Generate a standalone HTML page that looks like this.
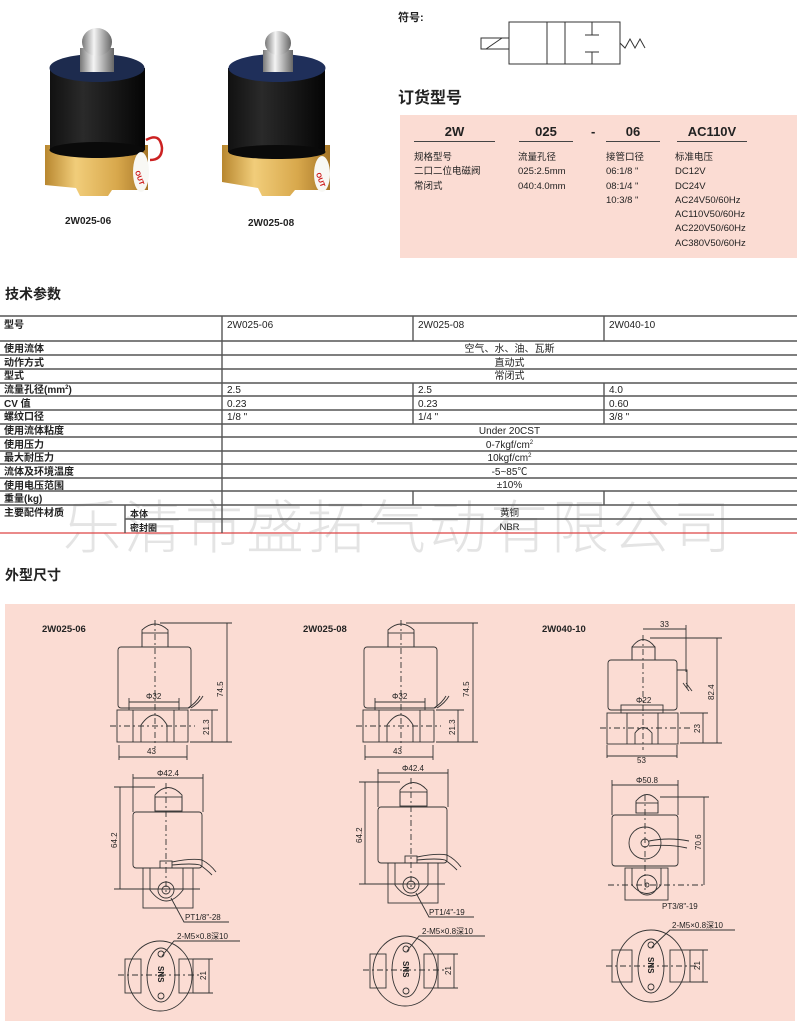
<!DOCTYPE html>
<html><head><meta charset="utf-8"><style>
body{margin:0;width:797px;height:1024px;background:#fff;position:relative;overflow:hidden;font-family:"Liberation Sans","Noto Sans CJK SC",sans-serif;color:#222}
.a{position:absolute;white-space:nowrap}
.h{font-weight:bold;font-size:15px;color:#222}
.b{font-weight:bold}
.s{font-size:6px;position:relative;top:-4px;line-height:0}
</style></head><body>

<svg class="a" style="left:0;top:0" width="390" height="240">
 <defs>
  <linearGradient id="br" x1="0" x2="1"><stop offset="0" stop-color="#b8872f"/><stop offset=".3" stop-color="#f1cd7a"/><stop offset=".7" stop-color="#d8a84c"/><stop offset="1" stop-color="#a67628"/></linearGradient>
  <linearGradient id="bk" x1="0" x2="1"><stop offset="0" stop-color="#111"/><stop offset=".35" stop-color="#2a2a2a"/><stop offset="1" stop-color="#050505"/></linearGradient>
  <linearGradient id="sv" x1="0" x2="1"><stop offset="0" stop-color="#777"/><stop offset=".4" stop-color="#f4f4f4"/><stop offset="1" stop-color="#666"/></linearGradient>
 </defs>
 <path d="M45 145 L148 145 L148 190 L112 190 L108 196 L80 196 L76 188 L45 185Z" fill="url(#br)"/>
 <rect x="50" y="68" width="95" height="82" fill="url(#bk)"/>
 <ellipse cx="97" cy="150" rx="47.5" ry="8" fill="#0a0a0a"/>
 <ellipse cx="97" cy="68" rx="47.5" ry="14" fill="#1d2b4e"/>
 <rect x="80" y="48" width="34" height="24" fill="url(#sv)"/>
 <ellipse cx="97" cy="42" rx="15" ry="14" fill="url(#sv)"/>
 <path d="M146 140 q14 -8 16 8 q0 12 -12 12" stroke="#c22" stroke-width="2.5" fill="none"/>
 <ellipse cx="141" cy="172" rx="8" ry="20" fill="#f8f8f4"/>
 <text x="136" y="178" font-size="7" fill="#c11" font-weight="bold" transform="rotate(70 140 174)">OUT</text>
 <path d="M222 145 L330 145 L330 190 L295 190 L290 196 L262 196 L258 188 L222 182Z" fill="url(#br)"/>
 <rect x="228" y="68" width="97" height="84" fill="url(#bk)"/>
 <ellipse cx="277" cy="152" rx="48.5" ry="7" fill="#0a0a0a"/>
 <ellipse cx="277" cy="68" rx="48.5" ry="14" fill="#1f2f5a"/>
 <rect x="263" y="50" width="30" height="22" fill="url(#sv)"/>
 <ellipse cx="278" cy="43" rx="13" ry="12" fill="url(#sv)"/>
 <ellipse cx="322" cy="174" rx="8" ry="18" fill="#f8f8f4"/>
 <text x="317" y="180" font-size="7" fill="#c11" font-weight="bold" transform="rotate(70 321 176)">OUT</text>
</svg>
<div class="a b" style="left:65px;top:216px;font-size:10px">2W025-06</div>
<div class="a b" style="left:248px;top:218px;font-size:10px">2W025-08</div>

<div class="a b" style="left:398px;top:9px;font-size:11px">符号:</div>
<svg class="a" style="left:470px;top:15px" width="190" height="60" fill="none" stroke="#333" stroke-width="1">
 <rect x="39" y="7" width="111" height="42"/>
 <line x1="77" y1="7" x2="77" y2="49"/><line x1="95" y1="7" x2="95" y2="49"/>
 <line x1="122" y1="7" x2="122" y2="20"/><line x1="115" y1="20" x2="129" y2="20"/>
 <line x1="122" y1="49" x2="122" y2="37"/><line x1="115" y1="37" x2="129" y2="37"/>
 <rect x="11" y="23" width="28" height="11"/><line x1="16" y1="34" x2="32" y2="23"/>
 <polyline points="150,28 155,33 160,24 165,33 170,24 175,33"/>
</svg>
<div class="a h" style="left:398px;top:84px;font-size:16px">订货型号</div>

<div class="a" style="left:400px;top:115px;width:397px;height:143px;background:#fbdcd3"></div>
<div class="a b" style="left:414px;top:124px;width:81px;text-align:center;font-size:13px;border-bottom:1.5px solid #444;padding-bottom:2px">2W</div>
<div class="a b" style="left:519px;top:124px;width:54px;text-align:center;font-size:13px;border-bottom:1.5px solid #444;padding-bottom:2px">025</div>
<div class="a b" style="left:591px;top:124px;font-size:13px">-</div>
<div class="a b" style="left:606px;top:124px;width:54px;text-align:center;font-size:13px;border-bottom:1.5px solid #444;padding-bottom:2px">06</div>
<div class="a b" style="left:677px;top:124px;width:70px;text-align:center;font-size:13px;border-bottom:1.5px solid #444;padding-bottom:2px">AC110V</div>
<div class="a" style="left:414px;top:151px;font-size:9.5px;line-height:14.3px">规格型号<br>二口二位电磁阀<br>常闭式</div>
<div class="a" style="left:518px;top:151px;font-size:9.5px;line-height:14.3px">流量孔径<br>025:2.5mm<br>040:4.0mm</div>
<div class="a" style="left:606px;top:151px;font-size:9.5px;line-height:14.3px">接管口径<br>06:1/8 "<br>08:1/4 "<br>10:3/8 "</div>
<div class="a" style="left:675px;top:151px;font-size:9.5px;line-height:14.3px">标准电压<br>DC12V<br>DC24V<br>AC24V50/60Hz<br>AC110V50/60Hz<br>AC220V50/60Hz<br>AC380V50/60Hz</div>

<div class="a h" style="left:5px;top:284px;font-size:14px">技术参数</div>
<div class="a" style="left:0;top:493px;width:797px;text-align:center;font-size:58px;color:#e4e4e4;letter-spacing:3px;line-height:60px;font-family:'Noto Sans CJK SC',sans-serif;font-weight:300">乐清市盛拓气动有限公司</div>
<svg class="a" style="left:0;top:0" width="797" height="560" stroke="#555" stroke-width="1.4">
 <line x1="0" y1="316" x2="797" y2="316"/>
 <line x1="0" y1="341" x2="797" y2="341"/>
 <line x1="0" y1="355" x2="797" y2="355"/>
 <line x1="0" y1="369" x2="797" y2="369"/>
 <line x1="0" y1="383" x2="797" y2="383"/>
 <line x1="0" y1="396" x2="797" y2="396"/>
 <line x1="0" y1="410" x2="797" y2="410"/>
 <line x1="0" y1="424" x2="797" y2="424"/>
 <line x1="0" y1="437" x2="797" y2="437"/>
 <line x1="0" y1="451" x2="797" y2="451"/>
 <line x1="0" y1="464" x2="797" y2="464"/>
 <line x1="0" y1="478" x2="797" y2="478"/>
 <line x1="0" y1="491" x2="797" y2="491"/>
 <line x1="0" y1="505" x2="797" y2="505"/>
 <line x1="125" y1="519" x2="797" y2="519"/>
 <line x1="0" y1="533" x2="797" y2="533" stroke="#d44" stroke-width="1.2"/>
 <line x1="222" y1="316" x2="222" y2="533"/>
 <line x1="125" y1="505" x2="125" y2="533"/>
 <line x1="413" y1="316" x2="413" y2="341"/><line x1="604" y1="316" x2="604" y2="341"/>
 <line x1="413" y1="383" x2="413" y2="424"/><line x1="604" y1="383" x2="604" y2="424"/>
 <line x1="413" y1="491" x2="413" y2="505"/><line x1="604" y1="491" x2="604" y2="505"/>
</svg>
<div class="a b" style="left:4px;top:319px;font-size:10px;line-height:13.6px">型号</div>
<div class="a b" style="left:4px;top:343px;font-size:10px;line-height:13.65px">使用流体<br>动作方式<br>型式<br>流量孔径(mm<span class="s">2</span>)<br>CV 值<br>螺纹口径<br>使用流体粘度<br>使用压力<br>最大耐压力<br>流体及环境温度<br>使用电压范围<br>重量(kg)<br>主要配件材质</div>
<div class="a b" style="left:130px;top:507px;font-size:9px;line-height:14px">本体<br>密封圈</div>
<div class="a" style="left:227px;top:320px;font-size:10px">2W025-06</div>
<div class="a" style="left:418px;top:320px;font-size:10px">2W025-08</div>
<div class="a" style="left:609px;top:320px;font-size:10px">2W040-10</div>
<div class="a" style="left:222px;top:343px;width:575px;text-align:center;font-size:10px;line-height:13.65px">空气、水、油、瓦斯<br>直动式<br>常闭式</div>
<div class="a" style="left:227px;top:384px;font-size:10px;line-height:13.7px">2.5<br>0.23<br>1/8 "</div>
<div class="a" style="left:418px;top:384px;font-size:10px;line-height:13.7px">2.5<br>0.23<br>1/4 "</div>
<div class="a" style="left:609px;top:384px;font-size:10px;line-height:13.7px">4.0<br>0.60<br>3/8 "</div>
<div class="a" style="left:222px;top:425px;width:575px;text-align:center;font-size:10px;line-height:13.6px">Under 20CST<br>0-7kgf/cm<span class="s">2</span><br>10kgf/cm<span class="s">2</span><br>-5~85℃<br>±10%</div>
<div class="a" style="left:222px;top:507px;width:575px;text-align:center;font-size:9.5px;line-height:14px">黄铜<br>NBR</div>

<div class="a h" style="left:5px;top:565px;font-size:14px">外型尺寸</div>

<div class="a" style="left:5px;top:604px;width:790px;height:417px;background:#fbdcd3"></div>
<svg class="a" style="left:0;top:0" width="797" height="1024" fill="none" stroke="#333" stroke-width="0.9" font-family="Liberation Sans, sans-serif">
 <defs>
  <g id="top1">
   <path d="M142 647 L142 630 Q155 618 168 630 L168 647"/>
   <rect x="142" y="633" width="26" height="14"/>
   <rect x="118" y="647" width="73" height="61" rx="3"/>
   <rect x="117" y="710" width="71" height="32"/>
   <line x1="133" y1="710" x2="133" y2="742"/><line x1="174" y1="710" x2="174" y2="742"/>
   <path d="M141 742 L141 725 Q155 705 167 725 L167 742"/>
   <line x1="155" y1="620" x2="155" y2="748" stroke-dasharray="6 3 2 3"/>
   <line x1="110" y1="726" x2="195" y2="726" stroke-dasharray="6 3 2 3"/>
   <line x1="160" y1="623" x2="232" y2="623"/><line x1="190" y1="742" x2="232" y2="742"/>
   <line x1="227" y1="623" x2="227" y2="742"/>
   <line x1="190" y1="710" x2="218" y2="710"/><line x1="212" y1="710" x2="212" y2="742"/>
   <line x1="119" y1="757" x2="187" y2="757"/><line x1="119" y1="745" x2="119" y2="760"/><line x1="187" y1="745" x2="187" y2="760"/>
   <line x1="129" y1="702" x2="179" y2="702"/><line x1="129" y1="698" x2="129" y2="710"/><line x1="179" y1="698" x2="179" y2="710"/>
   <path d="M188 708 q8 -5 12 -12 M191 708 q8 -5 12 -12"/>
  </g>
  <g id="low1">
   <line x1="133" y1="774" x2="133" y2="812"/><line x1="203" y1="774" x2="203" y2="812"/>
   <line x1="133" y1="778" x2="203" y2="778"/>
   <path d="M155 811 L155 795 Q168 780 182 795 L182 811"/>
   <rect x="155" y="797" width="27" height="14"/>
   <rect x="133" y="812" width="69" height="56" rx="3"/>
   <rect x="143" y="868" width="50" height="40"/>
   <path d="M150 868 L150 890 Q166 912 183 890 L183 868"/>
   <circle cx="166" cy="890" r="8"/><circle cx="166" cy="890" r="4"/>
   <rect x="160" y="861" width="12" height="7"/>
   <path d="M172 862 q20 -4 30 -2 q8 4 14 12 M172 865 q20 -2 28 0 q6 4 12 10"/>
   <line x1="166" y1="783" x2="166" y2="895" stroke-dasharray="6 3 2 3"/>
   <line x1="114" y1="787" x2="155" y2="787"/><line x1="114" y1="889" x2="200" y2="889"/>
   <line x1="120" y1="787" x2="120" y2="889"/>
   <polyline points="171,898 184,922 229,922"/>
   <ellipse cx="160" cy="976" rx="32" ry="35"/>
   <rect x="125" y="959" width="16" height="34"/><rect x="179" y="959" width="14" height="34"/>
   <ellipse cx="161" cy="975" rx="14" ry="27"/>
   <circle cx="161" cy="954" r="3"/><circle cx="161" cy="996" r="3"/>
   <line x1="118" y1="975" x2="200" y2="975" stroke-dasharray="6 3 2 3"/>
   <line x1="193" y1="959" x2="213" y2="959"/><line x1="193" y1="993" x2="213" y2="993"/>
   <line x1="209" y1="959" x2="209" y2="993"/>
   <polyline points="162,956 174,941 240,941"/>
  </g>
 </defs>
 <use href="#top1"/>
 <use href="#low1"/>
 <use href="#top1" transform="translate(246,0)"/>
 <use href="#low1" transform="translate(245,-5)"/>

 <path d="M632 660 L632 647 Q643 632 655 647 L655 660"/>
 <rect x="632" y="647" width="23" height="13"/>
 <rect x="608" y="660" width="69" height="50" rx="3"/>
 <rect x="621" y="705" width="42" height="8"/>
 <rect x="607" y="713" width="71" height="31"/>
 <line x1="627" y1="713" x2="627" y2="744"/><line x1="658" y1="713" x2="658" y2="744"/>
 <path d="M635 744 L635 733 Q643 722 652 733 L652 744"/>
 <path d="M677 670 h10 v18 M683 683 l6 8 M686 683 l6 8"/>
 <line x1="643" y1="635" x2="643" y2="750" stroke-dasharray="6 3 2 3"/>
 <line x1="600" y1="728" x2="690" y2="728" stroke-dasharray="6 3 2 3"/>
 <line x1="643" y1="629" x2="686" y2="629"/><line x1="686" y1="625" x2="686" y2="672"/>
 <line x1="650" y1="638" x2="722" y2="638"/><line x1="680" y1="743" x2="722" y2="743"/><line x1="717" y1="638" x2="717" y2="743"/>
 <line x1="680" y1="713" x2="708" y2="713"/><line x1="703" y1="713" x2="703" y2="743"/>
 <line x1="607" y1="756" x2="677" y2="756"/><line x1="607" y1="745" x2="607" y2="758"/><line x1="677" y1="745" x2="677" y2="758"/>
 <line x1="612" y1="780" x2="612" y2="815"/><line x1="678" y1="780" x2="678" y2="815"/><line x1="612" y1="785" x2="678" y2="785"/>
 <path d="M636 813 L636 801 Q647 788 658 801 L658 813"/>
 <rect x="636" y="803" width="22" height="10"/>
 <rect x="612" y="815" width="66" height="51" rx="3"/>
 <circle cx="645" cy="843" r="16"/><circle cx="645" cy="843" r="4"/>
 <path d="M649 841 q20 -4 40 0 M649 846 q20 -2 38 2"/>
 <rect x="625" y="868" width="43" height="32"/>
 <path d="M632 868 L632 885 Q647 902 661 885 L661 868"/>
 <circle cx="647" cy="885" r="10"/><circle cx="647" cy="885" r="2"/>
 <line x1="645" y1="795" x2="645" y2="890" stroke-dasharray="6 3 2 3"/>
 <line x1="608" y1="885" x2="706" y2="885" stroke-dasharray="6 3 2 3"/>
 <line x1="660" y1="797" x2="709" y2="797"/><line x1="704" y1="797" x2="704" y2="885"/>
 <ellipse cx="651" cy="966" rx="34" ry="36"/>
 <rect x="612" y="950" width="20" height="32"/><rect x="670" y="950" width="20" height="32"/>
 <ellipse cx="651" cy="966" rx="13" ry="27"/>
 <circle cx="651" cy="945" r="3"/><circle cx="651" cy="987" r="3"/>
 <line x1="606" y1="966" x2="696" y2="966" stroke-dasharray="6 3 2 3"/>
 <line x1="690" y1="950" x2="708" y2="950"/><line x1="690" y1="982" x2="708" y2="982"/><line x1="703" y1="950" x2="703" y2="982"/>
 <polyline points="652,947 670,930 735,930"/>

 <g fill="#222" stroke="none" font-size="8">
  <text x="42" y="632" font-size="9.5" font-weight="bold">2W025-06</text>
  <text x="303" y="632" font-size="9.5" font-weight="bold">2W025-08</text>
  <text x="542" y="632" font-size="9.5" font-weight="bold">2W040-10</text>
  <text x="146" y="699">Φ32</text><text x="392" y="699">Φ32</text><text x="636" y="703">Φ22</text>
  <text x="147" y="754">43</text><text x="393" y="754">43</text><text x="637" y="763">53</text>
  <text x="660" y="627">33</text>
  <text transform="translate(223,697) rotate(-90)">74.5</text>
  <text transform="translate(469,697) rotate(-90)">74.5</text>
  <text transform="translate(209,735) rotate(-90)">21.3</text>
  <text transform="translate(455,735) rotate(-90)">21.3</text>
  <text transform="translate(714,700) rotate(-90)">82.4</text>
  <text transform="translate(700,733) rotate(-90)">23</text>
  <text x="157" y="776">Φ42.4</text><text x="402" y="771">Φ42.4</text><text x="636" y="783">Φ50.8</text>
  <text transform="translate(117,848) rotate(-90)">64.2</text>
  <text transform="translate(362,843) rotate(-90)">64.2</text>
  <text transform="translate(701,850) rotate(-90)">70.6</text>
  <text x="185" y="920">PT1/8"-28</text>
  <text x="429" y="915">PT1/4"-19</text>
  <text x="662" y="909">PT3/8"-19</text>
  <text x="177" y="939">2-M5×0.8深10</text>
  <text x="422" y="934">2-M5×0.8深10</text>
  <text x="672" y="928">2-M5×0.8深10</text>
  <text transform="translate(206,980) rotate(-90)">21</text>
  <text transform="translate(451,975) rotate(-90)">21</text>
  <text transform="translate(700,970) rotate(-90)">21</text>
  <text transform="translate(158,966) rotate(90)" font-size="8" font-weight="bold">SNS</text>
  <text transform="translate(403,961) rotate(90)" font-size="8" font-weight="bold">SNS</text>
  <text transform="translate(648,957) rotate(90)" font-size="8" font-weight="bold">SNS</text>
 </g>
</svg>
</body></html>
